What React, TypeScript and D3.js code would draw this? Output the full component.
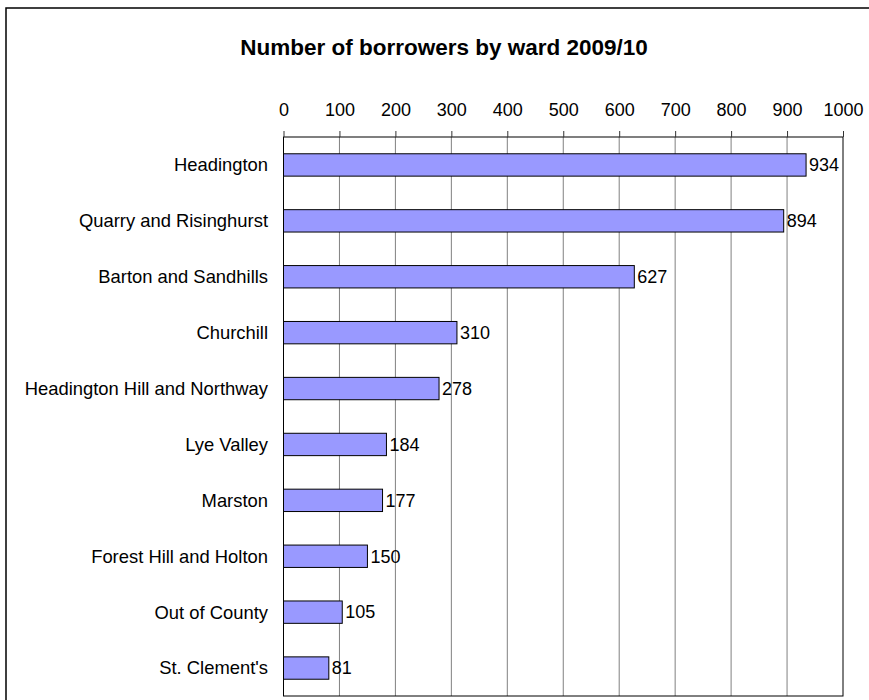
import { useEffect, useRef } from "react";
import * as d3 from "d3";

const wards = [
  "Headington",
  "Quarry and Risinghurst",
  "Barton and Sandhills",
  "Churchill",
  "Headington Hill and Northway",
  "Lye Valley",
  "Marston",
  "Forest Hill and Holton",
  "Out of County",
  "St. Clement's",
];
const borrowers = [934, 894, 627, 310, 278, 184, 177, 150, 105, 81];
const tickValues = [0, 100, 200, 300, 400, 500, 600, 700, 800, 900, 1000];
const chartTitle = "Number of borrowers by ward 2009/10";

const App = () => {
  const svgRef = useRef<SVGSVGElement | null>(null);

  useEffect(() => {
    if (!svgRef.current) return;
    const width = 869;
    const height = 700;
    const left = 283.5;
    const right = 843;
    const top = 137;
    const bottom = 696;
    const font = "'Liberation Sans', Arial, sans-serif";

    const svg = d3.select(svgRef.current);
    svg.selectAll("*").remove();
    svg.attr("width", width).attr("height", height).style("font-family", font);

    // background + outer chart frame (runs off the picture right and bottom)
    svg.append("rect").attr("width", width).attr("height", height).attr("fill", "#fff");
    svg
      .append("rect")
      .attr("x", 6)
      .attr("y", 8)
      .attr("width", 900)
      .attr("height", 760)
      .attr("fill", "#fff")
      .attr("stroke", "#000")
      .attr("stroke-width", 1.5);

    svg
      .append("text")
      .attr("x", 444)
      .attr("y", 55)
      .attr("text-anchor", "middle")
      .attr("font-weight", "bold")
      .attr("font-size", 22.5)
      .text(chartTitle);

    const x = d3.scaleLinear().domain([0, 1000]).range([left, right]);
    const y = d3
      .scaleBand<string>()
      .domain(wards)
      .range([top, bottom])
      .paddingInner(0.6)
      .paddingOuter(0.3);

    // gridlines
    svg
      .append("g")
      .selectAll("line")
      .data(tickValues.slice(1, -1))
      .join("line")
      .attr("x1", (d) => x(d))
      .attr("x2", (d) => x(d))
      .attr("y1", top)
      .attr("y2", bottom)
      .attr("stroke", "#808080")
      .attr("stroke-width", 1);

    // plot area border
    svg
      .append("rect")
      .attr("x", left)
      .attr("y", top)
      .attr("width", right - left)
      .attr("height", bottom - top)
      .attr("fill", "none")
      .attr("stroke", "#000")
      .attr("stroke-width", 1);

    // top axis
    const axis = svg.append("g").attr("transform", `translate(0,${top})`);
    axis
      .call(
        d3
          .axisTop(x)
          .tickValues(tickValues)
          .tickSize(6)
          .tickPadding(15)
          .tickFormat(d3.format("d"))
      )
      .call((g) => g.select(".domain").remove());
    axis.selectAll(".tick line").attr("stroke", "#333");
    axis
      .selectAll(".tick text")
      .attr("font-size", 18)
      .attr("font-family", font)
      .attr("fill", "#000");

    // bars
    svg
      .append("g")
      .selectAll("rect")
      .data(wards)
      .join("rect")
      .attr("x", x(0))
      .attr("y", (d) => y(d)!)
      .attr("width", (d, i) => x(borrowers[i]) - x(0))
      .attr("height", y.bandwidth())
      .attr("fill", "#9999FF")
      .attr("stroke", "#000")
      .attr("stroke-width", 1);

    // category labels
    svg
      .append("g")
      .selectAll("text")
      .data(wards)
      .join("text")
      .attr("x", 268)
      .attr("y", (d) => y(d)! + y.bandwidth() / 2)
      .attr("dy", "0.35em")
      .attr("text-anchor", "end")
      .attr("font-size", 18.4)
      .text((d) => d);

    // value labels
    svg
      .append("g")
      .selectAll("text")
      .data(wards)
      .join("text")
      .attr("x", (d, i) => x(borrowers[i]) + 3)
      .attr("y", (d) => y(d)! + y.bandwidth() / 2)
      .attr("dy", "0.35em")
      .attr("font-size", 18)
      .text((d, i) => borrowers[i]);
  }, []);

  return (
    <svg
      ref={svgRef}
      style={{ position: "absolute", left: 0, top: 0, display: "block" }}
    ></svg>
  );
};

export default App;
